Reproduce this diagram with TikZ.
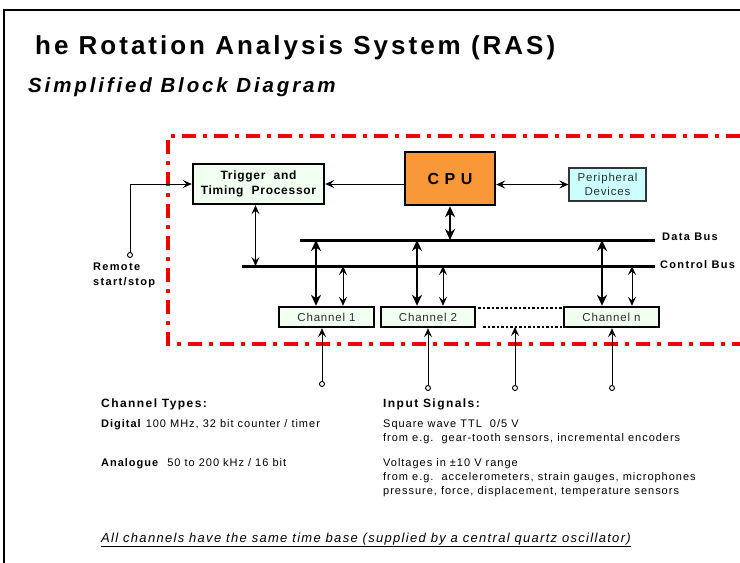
\documentclass[tikz,border=0pt]{standalone}
\usepackage{fontspec}
\setmainfont{Liberation Sans}
\newfontfamily\titlefont[LetterSpace=11.5]{Liberation Sans}
\newfontfamily\subfont[LetterSpace=14]{Liberation Sans}
\newfontfamily\widefont[LetterSpace=12]{Liberation Sans}
\newfontfamily\trigfont[LetterSpace=6]{Liberation Sans}
\newfontfamily\lightfont[LetterSpace=7]{Liberation Sans}
\newfontfamily\bodyfont[LetterSpace=9]{Liberation Sans}
\newfontfamily\notefont[LetterSpace=10]{Liberation Sans}
\usetikzlibrary{arrows.meta,calc}
\definecolor{boxgreen}{RGB}{240,255,240}
\definecolor{cpuorange}{RGB}{248,152,56}
\definecolor{cyanfill}{RGB}{204,255,255}
\definecolor{textgray}{RGB}{45,45,45}
\definecolor{framered}{RGB}{240,0,0}
\tikzset{
  blk/.style={draw=black, line width=2.4pt, fill=boxgreen, inner sep=0pt},
  chbox/.style={blk, minimum width=95pt, minimum height=20pt, text=textgray,
     font=\lightfont\fontsize{11.5}{13}\selectfont},
  thintip/.tip={Stealth[length=9pt,width=8pt,inset=3.5pt]},
  thicktip/.tip={Stealth[length=11pt,width=10pt,inset=3.5pt]},
  thinarrow/.style={line width=1pt, -thintip},
  thinboth/.style={line width=1pt, thintip-thintip},
  thickboth/.style={line width=2.6pt, thicktip-thicktip},
  busline/.style={line width=3pt},
  dotline/.style={line width=2pt, dash pattern=on 2.5pt off 2pt},
  redframe/.style={draw=framered, line width=3.5pt, dash pattern=on 14pt off 7pt on 4pt off 7pt},
  pin/.style={circle, draw=black, line width=0.9pt, fill=white, inner sep=0pt, minimum size=5pt},
  buslabel/.style={anchor=west, inner sep=0pt, font=\widefont\bfseries\fontsize{11}{13}\selectfont},
  txt/.style={anchor=base west, inner sep=0pt, font=\bodyfont\fontsize{11}{13}\selectfont},
  hdr/.style={anchor=base west, inner sep=0pt, font=\widefont\bfseries\fontsize{12}{14}\selectfont},
}
\begin{document}
\begin{tikzpicture}[x=1pt,y=-1pt]
\useasboundingbox (0,0) rectangle (740,563);
\fill[white] (0,0) rectangle (740,563);
% outer frame
\draw[line width=1.8pt] (4,563) -- (4,10) -- (740,10);
% titles
\node[anchor=base west, inner sep=0pt, font=\titlefont\bfseries\fontsize{26}{30}\selectfont] (title) at (35,54) {he Rotation Analysis System (RAS)};
\node[anchor=base west, inner sep=0pt, font=\subfont\bfseries\itshape\fontsize{20.5}{24}\selectfont] (subtitle) at (28,92) {Simplified Block Diagram};
% red dash-dot boundary
\draw[redframe] (740,136) -- (168,136) -- (168,344) -- (740,344);
% blocks
\node[blk, minimum width=131pt, minimum height=40pt, align=center,
      font=\trigfont\bfseries\fontsize{12}{15}\selectfont] (trig) at (258.5,184) {Trigger\ \ and\\Timing\ \ Processor};
\node[blk, fill=cpuorange, minimum width=90pt, minimum height=53pt,
      font=\lightfont\bfseries\fontsize{16}{18}\selectfont] (cpu) at (450,178.5) {\raisebox{-4.5pt}{C P U}\hspace{10pt}};
\node[draw=black!80, line width=1.3pt, fill=cyanfill, minimum width=77pt, minimum height=33pt,
      inner sep=0pt, align=center, text=textgray, font=\lightfont\fontsize{11.5}{14}\selectfont] (per) at (607.5,184.5) {Peripheral\\Devices};
\node[chbox] (ch1) at (326.5,317) {Channel 1};
\node[chbox, minimum width=94pt] (ch2) at (428,317) {Channel 2};
\node[chbox] (chn) at (611.5,317) {Channel n};
% buses
\coordinate (dbL) at (300,240);
\coordinate (dbR) at (655,240);
\coordinate (cbL) at (242,266);
\coordinate (cbR) at (655,266);
\draw[busline] (dbL) -- (dbR);
\draw[busline] (cbL) -- (cbR);
\node[buslabel] (dblab) at (662,237) {Data Bus};
\node[buslabel] (cblab) at (660,265) {Control Bus};
% CPU connections
\draw[thinarrow] (cpu.west |- trig.east) -- (trig.east);
\draw[thinboth] (cpu.east |- per.west) -- (per.west);
\draw[thickboth] (cpu.south) -- (cpu.south |- dbL);
\draw[thinboth] ([xshift=-3pt]trig.south) -- ([xshift=-3pt]trig.south |- cbL);
% channel connections
\draw[thickboth] ([xshift=-10.5pt]ch1.north) -- ([xshift=-10.5pt]ch1.north |- dbL);
\draw[thinboth] ([xshift=16.5pt]ch1.north) -- ([xshift=16.5pt]ch1.north |- cbL);
\draw[thickboth] ([xshift=-11pt]ch2.north) -- ([xshift=-11pt]ch2.north |- dbL);
\draw[thinboth] ([xshift=15pt]ch2.north) -- ([xshift=15pt]ch2.north |- cbL);
\draw[thickboth] ([xshift=-9.5pt]chn.north) -- ([xshift=-9.5pt]chn.north |- dbL);
\draw[thinboth] ([xshift=20.5pt]chn.north) -- ([xshift=20.5pt]chn.north |- cbL);
% dotted continuation
\coordinate (dt1) at (478,308);
\coordinate (dt2) at (483,327);
\draw[dotline] (dt1) -- (dt1 -| chn.west);
\draw[dotline] (dt2) -- (dt2 -| chn.west);
% remote start/stop
\node[pin] (rem) at (130,255) {};
\draw[thinarrow] (rem.north) |- (trig.west);
\node[anchor=base west, inner sep=0pt, font=\widefont\bfseries\fontsize{11}{13}\selectfont] (remA) at (93,270) {Remote};
\node[anchor=base west, inner sep=0pt, font=\widefont\bfseries\fontsize{11}{13}\selectfont] (remB) at (93,285) {start/stop};
% inputs
\node[pin] (in1) at (322,384) {};
\node[pin] (in2) at (428,388) {};
\node[pin] (in3) at (515,388) {};
\node[pin] (in4) at (612,388) {};
\draw[thinarrow] (in1.north) -- (in1.north |- ch1.south);
\draw[thinarrow] (in2.north) -- (in2.north |- ch2.south);
\draw[thinarrow] (in3.north) -- (in3.north |- dt2);
\draw[thinarrow] (in4.north) -- (in4.north |- chn.south);
% text block
\node[hdr] (ctyp) at (101,407) {Channel Types:};
\node[txt] (dig) at (101,427) {\textbf{Digital} 100 MHz, 32 bit counter / timer};
\node[txt] (ana) at (101,466) {\textbf{Analogue}\ \ 50 to 200 kHz / 16 bit};
\node[hdr] (isig) at (383,407) {Input Signals:};
\node[txt] (s1) at (383,427) {Square wave TTL\ \ 0/5 V};
\node[txt] (s2) at (383,441) {from e.g.\ \ gear-tooth sensors, incremental encoders};
\node[txt] (s3) at (383,466) {Voltages in ±10 V range};
\node[txt] (s4) at (383,480) {from e.g.\ \ accelerometers, strain gauges, microphones};
\node[txt] (s5) at (383,494) {pressure, force, displacement, temperature sensors};
\node[anchor=base west, inner sep=0pt, font=\notefont\itshape\fontsize{13}{15}\selectfont] (note) at (101,542)
  {\underline{All channels have the same time base (supplied by a central quartz oscillator)}};
\end{tikzpicture}
\end{document}
